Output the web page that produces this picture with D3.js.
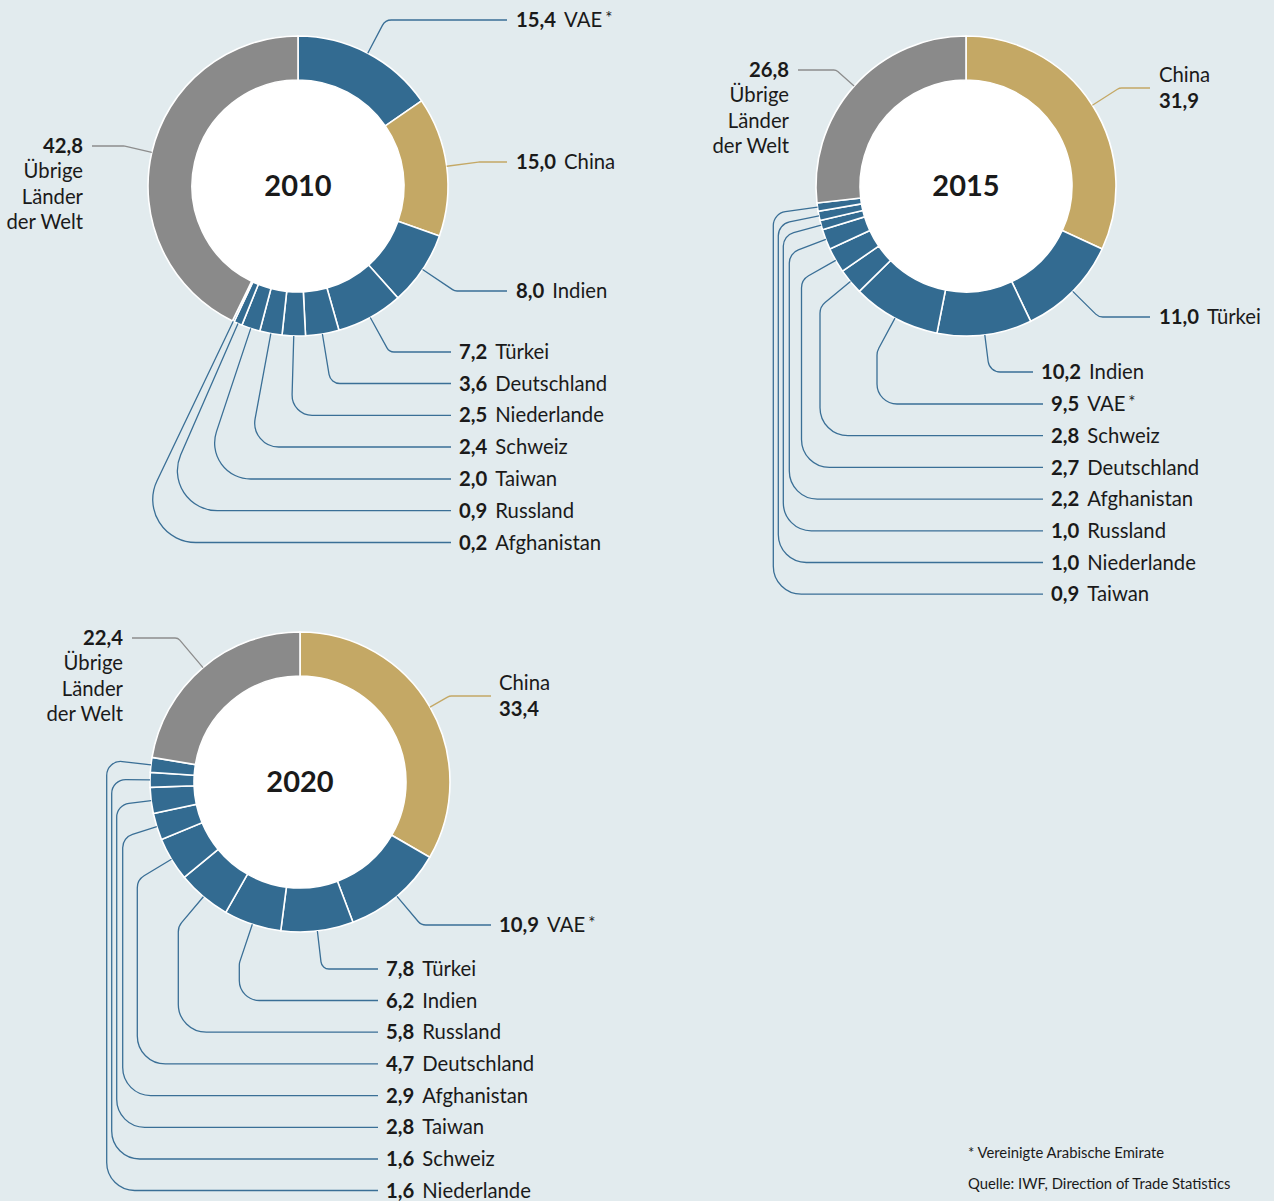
<!DOCTYPE html>
<html><head><meta charset="utf-8">
<script src="https://cdn.jsdelivr.net/npm/d3@7"></script>
<style>
html,body{margin:0;padding:0;background:#e2ebee;}
svg{display:block;}
text{font-family:Lato,"Noto Sans",sans-serif;fill:#1a1a1a;}
</style></head><body>
<svg id="chart" width="1274" height="1201"></svg>
<script>
// ---------- data ----------
const years = ["2010", "2015", "2020"];
const countries2010 = ["VAE","China","Indien","Türkei","Deutschland","Niederlande","Schweiz","Taiwan","Russland","Afghanistan","Übrige Länder der Welt"];
const values2010 = [15.4,15.0,8.0,7.2,3.6,2.5,2.4,2.0,0.9,0.2,42.8];
const countries2015 = ["China","Türkei","Indien","VAE","Schweiz","Deutschland","Afghanistan","Russland","Niederlande","Taiwan","Übrige Länder der Welt"];
const values2015 = [31.9,11.0,10.2,9.5,2.8,2.7,2.2,1.0,1.0,0.9,26.8];
const countries2020 = ["China","VAE","Türkei","Indien","Russland","Deutschland","Afghanistan","Taiwan","Schweiz","Niederlande","Übrige Länder der Welt"];
const values2020 = [33.4,10.9,7.8,6.2,5.8,4.7,2.9,2.8,1.6,1.6,22.4];
const footnote = "* Vereinigte Arabische Emirate";
const sourceNote = "Quelle: IWF, Direction of Trade Statistics";

// ---------- layout (positions only) ----------
const layouts = [
  {cx:298, cy:186, labels:[
    {x:516,y:20,end:507,r:10},
    {x:516,y:162,end:507,r:8},
    {x:516,y:291,end:507,r:8},
    {x:459,y:352,end:451,r:8},
    {x:459,y:383.5,end:451,r:11},
    {x:459,y:415.3,end:451,r:20},
    {x:459,y:447,end:451,r:24},
    {x:459,y:479,end:451,r:36},
    {x:459,y:510.7,end:451,r:40},
    {x:459,y:542.5,end:451,r:43},
    {x:83,y:146,end:92,r:6,rest:true}
  ]},
  {cx:966, cy:186, labels:[
    {x:1159,y:88,end:1150,r:8,two:true},
    {x:1159,y:317,end:1150,r:10},
    {x:1041,y:372,end:1033,r:12},
    {x:1051,y:404,end:1043,xv:877,r1:15,r2:20},
    {x:1051,y:435.7,end:1043,xv:820,r1:14,r2:28},
    {x:1051,y:467.4,end:1043,xv:801.5,r1:14,r2:28},
    {x:1051,y:499.1,end:1043,xv:789.3,r1:14,r2:28},
    {x:1051,y:530.8,end:1043,xv:783.3,r1:14,r2:28},
    {x:1051,y:562.5,end:1043,xv:778.3,r1:14,r2:28},
    {x:1051,y:594.2,end:1043,xv:773.3,r1:14,r2:28},
    {x:789,y:70,end:798,r:6,rest:true}
  ]},
  {cx:300, cy:782, labels:[
    {x:499,y:696,end:491,r:8,two:true},
    {x:499,y:925,end:491,r:10},
    {x:386,y:969,end:378,r:8},
    {x:386,y:1000.5,end:378,xv:239.3,r1:12,r2:20},
    {x:386,y:1032.2,end:378,xv:178.3,r1:14,r2:28},
    {x:386,y:1063.9,end:378,xv:137.3,r1:14,r2:28},
    {x:386,y:1095.6,end:378,xv:122.7,r1:14,r2:28},
    {x:386,y:1127.3,end:378,xv:116.7,r1:14,r2:28},
    {x:386,y:1159,end:378,xv:111.7,r1:14,r2:28},
    {x:386,y:1190.5,end:378,xv:106.7,r1:14,r2:28},
    {x:123,y:638,end:132,r:6,rest:true}
  ]}
];

const BLUE="#336b91", GOLD="#c4a865", GRAY="#8a8a8a";
const color = d3.scaleOrdinal().domain(["China","Übrige Länder der Welt"]).range([GOLD,GRAY]).unknown(BLUE);
const lineColor = d3.scaleOrdinal().domain(["China","Übrige Länder der Welt"]).range(["#c4a865","#8d8d8d"]).unknown("#3a6f96");
const locale = d3.formatLocale({decimal:",",thousands:".",grouping:[3],currency:["","€"]});
const fmt = locale.format(".1f");
const FS = "20.3px";

const RO=150, RI=106;
const svg = d3.select("#chart");
const pie = d3.pie().sort(null).value(d=>d.v);
const arc = d3.arc().innerRadius(RI).outerRadius(RO);

const datasets = [
  {cats:countries2010, vals:values2010},
  {cats:countries2015, vals:values2015},
  {cats:countries2020, vals:values2020}
];

function leaderPath(a, spec, cx, cy){
  const ux=Math.sin(a), uy=-Math.cos(a);
  const p0=[cx+RO*ux, cy+RO*uy];
  const p=d3.path();
  p.moveTo(p0[0],p0[1]);
  if(spec.xv!=null){
    const t=(spec.xv-p0[0])/ux;
    const c1=[spec.xv, p0[1]+t*uy];
    p.arcTo(c1[0],c1[1],spec.xv,spec.y,spec.r1);
    p.arcTo(spec.xv,spec.y,spec.end,spec.y,spec.r2);
  } else {
    const t=(spec.y-p0[1])/uy;
    const c=[p0[0]+t*ux, spec.y];
    p.arcTo(c[0],c[1],spec.end,spec.y,spec.r);
  }
  p.lineTo(spec.end,spec.y);
  return p.toString();
}

datasets.forEach((ds,i)=>{
  const L=layouts[i];
  const data = ds.cats.map((c,j)=>({name:c, v:ds.vals[j]}));
  const arcs = pie(data);
  const g = svg.append("g");
  const dg = g.append("g").attr("transform",`translate(${L.cx},${L.cy})`);
  dg.append("circle").attr("r",RI).attr("fill","#ffffff");
  dg.selectAll("path.seg").data(arcs).join("path")
    .attr("class","seg")
    .attr("d",arc)
    .attr("fill",d=>color(d.data.name))
    .attr("stroke","#ffffff").attr("stroke-width",1.6);
  dg.append("text").text(years[i])
    .attr("text-anchor","middle").attr("dy","0.36em")
    .style("font-size","29px").style("font-weight","700");

  arcs.forEach((d,j)=>{
    const spec=L.labels[j];
    const a=(d.startAngle+d.endAngle)/2;
    g.append("path").attr("d",leaderPath(a,spec,L.cx,L.cy))
      .attr("fill","none").attr("stroke",lineColor(d.data.name)).attr("stroke-width",1.3);
    const val=fmt(d.data.v);
    if(spec.rest){
      const parts=d.data.name.split(" ");
      const lines=[val, parts[0], parts[1], parts.slice(2).join(" ")];
      lines.forEach((ln,k)=>{
        g.append("text").attr("x",spec.x).attr("y",spec.y+[0,25.3,51,76.3][k])
          .attr("dy","0.35em").attr("text-anchor","end")
          .style("font-size",FS).style("font-weight",k===0?"700":"400").text(ln);
      });
    } else if(spec.two){
      g.append("text").attr("x",spec.x).attr("y",spec.y-13).attr("dy","0.35em")
        .style("font-size",FS).text(d.data.name);
      g.append("text").attr("x",spec.x).attr("y",spec.y+12.5).attr("dy","0.35em")
        .style("font-size",FS).style("font-weight","700").text(val);
    } else {
      const t=g.append("text").attr("x",spec.x).attr("y",spec.y).attr("dy","0.35em")
        .style("font-size",FS);
      t.append("tspan").style("font-weight","700").text(val);
      t.append("tspan").attr("dx",8).text(d.data.name);
      if(d.data.name==="VAE"){
        t.append("tspan").attr("dx",3).attr("dy",-3).style("font-size","17px").text("*");
      }
    }
  });
});

svg.append("text").attr("x",968).attr("y",1153).attr("dy","0.35em")
  .style("font-size","14.8px").text(footnote);
svg.append("text").attr("x",968).attr("y",1184).attr("dy","0.35em")
  .style("font-size","14.8px").text(sourceNote);
</script>
</body></html>
